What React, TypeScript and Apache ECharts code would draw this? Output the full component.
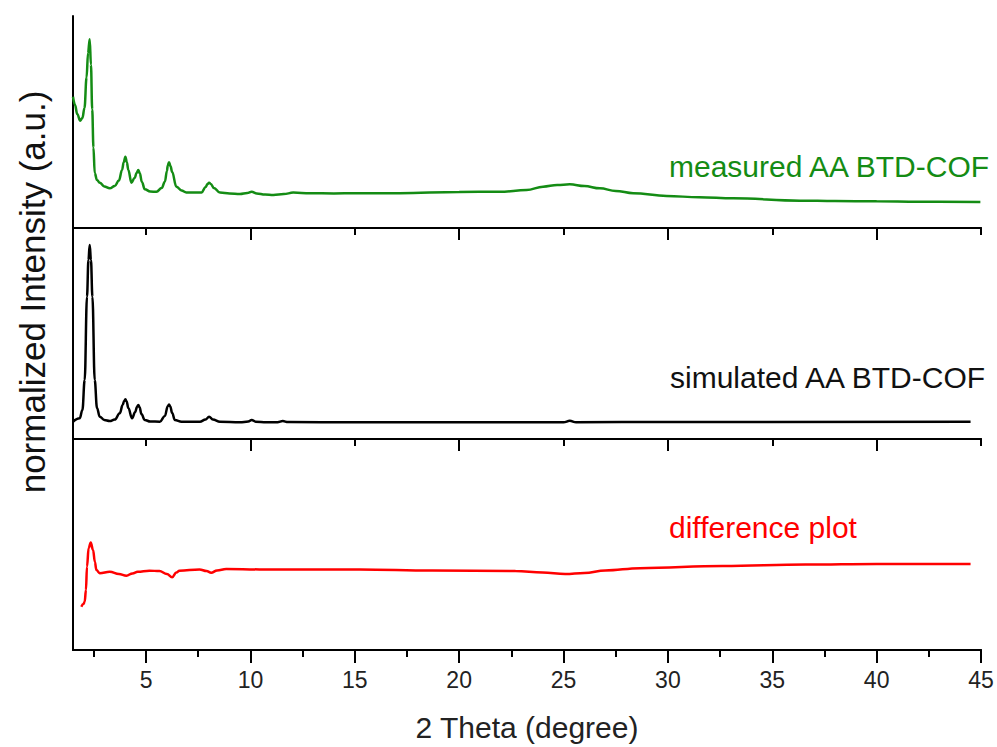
import React, { useEffect, useRef } from "react";
import * as echarts from "echarts";

// 2-theta range
const thetaMin = 1.5;
const thetaMax = 45;

// measured AA BTD-COF (normalized intensity, % of panel height)
const measuredTheta = [1.5,1.6,1.7,1.85,1.95,2.05,2.15,2.22,2.3,2.36,2.42,2.48,2.54,2.65,2.78,3.0,3.26,3.5,3.7,3.85,3.93,4.01,4.08,4.15,4.3,4.45,4.55,4.63,4.7,4.8,4.94,5.2,5.5,5.75,5.9,6.0,6.04,6.1,6.17,6.25,6.45,6.7,6.93,7.3,7.66,7.85,7.95,8.02,8.1,8.25,8.54,9.0,9.5,9.85,10.06,10.3,10.7,11.1,11.6,12.05,12.85,14.0,15.0,17.15,20.0,21.95,23.23,24.02,24.7,25.3,26.0,26.74,27.5,28.34,29.94,31.5,33.13,36.33,38,40,42,44.97];
const measuredIntensity = [61.9,58.0,53.8,50.6,51.9,56.6,71.0,82.6,89.0,77.0,56.0,38.0,25.9,22.6,21.4,19.6,18.7,19.8,22.4,27.4,31.0,33.6,31.0,27.4,21.4,23.6,26.0,27.4,25.8,21.7,18.3,17.2,17.1,18.9,21.8,26.9,29.5,31.0,29.3,26.4,19.5,17.7,16.8,16.7,16.7,19.3,20.8,21.4,20.8,18.9,16.7,16.3,16.0,16.5,17.1,16.3,15.8,15.6,16.0,16.7,16.4,16.3,16.4,16.4,17.0,17.1,17.9,19.5,20.3,20.6,19.8,18.7,17.5,16.4,15.1,14.5,14.0,12.9,12.7,12.6,12.4,12.3];

// simulated AA BTD-COF
const simulatedTheta = [1.5,1.82,1.95,2.06,2.17,2.24,2.3,2.36,2.43,2.54,2.65,2.78,3.0,3.26,3.5,3.74,3.88,3.95,4.01,4.07,4.15,4.33,4.48,4.57,4.63,4.69,4.78,4.94,5.2,5.66,5.9,6.04,6.1,6.16,6.25,6.38,6.7,7.58,7.85,8.02,8.2,8.54,9.5,9.9,10.06,10.25,10.76,11.3,11.55,11.8,15,20,25.0,25.3,25.6,30,44.5];
const simulatedIntensity = [8.2,9.8,13.7,28.0,67.4,84.8,91.9,84.8,67.4,28.0,14.7,10.6,9.0,8.5,9.2,12.2,16.1,18.0,18.8,17.8,14.7,9.8,12.8,15.3,16.1,15.0,11.8,9.0,8.3,8.2,10.9,15.5,16.4,15.4,12.3,9.0,8.2,8.2,9.2,10.6,9.2,8.2,7.9,8.3,9.0,8.2,7.9,7.96,8.5,8.0,7.9,7.9,7.9,8.6,7.9,8.1,8.2];

// difference plot
const differenceTheta = [1.9,2.0,2.06,2.12,2.17,2.25,2.35,2.46,2.55,2.62,2.78,3.26,3.7,4.06,4.35,4.6,5.16,5.64,6.0,6.25,6.45,6.6,7.56,7.9,8.12,8.4,8.84,10.43,12.03,15.23,18.7,22.7,24.0,25.08,26.0,27.0,28.66,32.63,36.6,40,44.5];
const differenceIntensity = [20.5,21.8,22.9,28.4,39.5,48.3,51.0,47.4,41.7,37.9,36.4,37.1,36.0,35.2,36.3,37.1,37.6,37.4,36.0,34.5,36.7,37.6,38.2,37.4,36.6,37.7,38.4,38.2,38.2,38.2,37.7,37.4,36.7,36.0,36.5,37.7,38.8,39.8,40.5,40.8,40.8];

// tick values
const majorTicks = [5,10,15,20,25,30,35,40,45];
const minorTicks = [2.5,7.5,12.5,17.5,22.5,27.5,32.5,37.5,42.5];
const dividerMajorTicks = [10,20,30,40];
const dividerMinorTicks = [5,15,25,35,45];

const seriesLabels = ["measured AA BTD-COF", "simulated AA BTD-COF", "difference plot"];
const seriesColors = ["#148c14", "#000000", "#ff0000"];
const xTitle = "2 Theta (degree)";
const yTitle = "normalized Intensity (a.u.)";

const FONT = "'Liberation Sans', Arial, Helvetica, sans-serif";

function zip(xs: number[], ys: number[]) {
  return xs.map((x, i) => [x, ys[i]]);
}

export default function App() {
  const ref = useRef<HTMLDivElement>(null);
  useEffect(() => {
    document.body.style.margin = "0";
    if (!ref.current) return;
    const chart = echarts.init(ref.current, undefined, { renderer: "svg" });
    const axisLine = { show: true, onZero: false, lineStyle: { color: "#000", width: 2 } };
    const baseX = (gridIndex: number, position: string, tickVals: number[], len: number, inside: boolean) => ({
      type: "value",
      gridIndex,
      position,
      min: thetaMin,
      max: thetaMax,
      axisLine,
      splitLine: { show: false },
      minorTick: { show: false },
      axisLabel: { show: false },
      axisTick: {
        show: true,
        inside,
        length: len,
        customValues: tickVals,
        lineStyle: { color: "#000", width: 2 },
      },
    });
    const xAxes: any[] = [
      baseX(0, "bottom", dividerMajorTicks, 12, false),
      baseX(1, "top", dividerMinorTicks, 7, true),
      baseX(1, "bottom", dividerMajorTicks, 12, false),
      baseX(2, "top", dividerMinorTicks, 7, true),
      {
        ...baseX(2, "bottom", majorTicks, 13, false),
        axisLabel: {
          show: true,
          customValues: majorTicks,
          fontSize: 23,
          fontFamily: FONT,
          color: "#222",
          margin: 18,
          showMaxLabel: true,
          showMinLabel: true,
        },
        name: xTitle,
        nameLocation: "middle",
        nameGap: 62,
        nameTextStyle: { fontSize: 30, fontFamily: FONT, color: "#222" },
      },
      baseX(2, "bottom", minorTicks, 7, false),
    ];
    const yAxes: any[] = [0, 1, 2].map((g) => ({
      type: "value",
      gridIndex: g,
      min: 0,
      max: 100,
      axisLine,
      axisTick: { show: false },
      axisLabel: { show: false },
      splitLine: { show: false },
    }));
    const mk = (name: string, data: number[][], color: string, xi: number, yi: number) => ({
      type: "line",
      name,
      data,
      xAxisIndex: xi,
      yAxisIndex: yi,
      showSymbol: false,
      symbol: "none",
      smooth: 0.4,
      smoothMonotone: "x",
      lineStyle: { color, width: 2.5 },
      silent: true,
    });
    chart.setOption({
      animation: false,
      backgroundColor: "#ffffff",
      grid: [
        { left: 73, right: 16, top: 16, height: 212 },
        { left: 73, right: 16, top: 228, height: 211 },
        { left: 73, right: 16, top: 439, height: 211 },
      ],
      xAxis: xAxes,
      yAxis: yAxes,
      series: [
        mk(seriesLabels[0], zip(measuredTheta, measuredIntensity), seriesColors[0], 0, 0),
        mk(seriesLabels[1], zip(simulatedTheta, simulatedIntensity), seriesColors[1], 1, 1),
        mk(seriesLabels[2], zip(differenceTheta, differenceIntensity), seriesColors[2], 4, 2),
      ],
      graphic: [
        {
          type: "text",
          x: 669,
          y: 166,
          style: { text: seriesLabels[0], fill: seriesColors[0], fontSize: 30, fontFamily: FONT, align: "left", verticalAlign: "middle" },
        },
        {
          type: "text",
          x: 670,
          y: 377,
          style: { text: seriesLabels[1], fill: "#111", fontSize: 30, fontFamily: FONT, align: "left", verticalAlign: "middle" },
        },
        {
          type: "text",
          x: 669,
          y: 527,
          style: { text: seriesLabels[2], fill: seriesColors[2], fontSize: 30, fontFamily: FONT, align: "left", verticalAlign: "middle" },
        },
        {
          type: "text",
          x: 32,
          y: 292,
          rotation: Math.PI / 2,
          style: { text: yTitle, fill: "#111", fontSize: 35, fontFamily: FONT, align: "center", verticalAlign: "middle" },
        },
      ],
    });
    return () => chart.dispose();
  }, []);
  return <div ref={ref} style={{ width: 997, height: 747 }} />;
}
